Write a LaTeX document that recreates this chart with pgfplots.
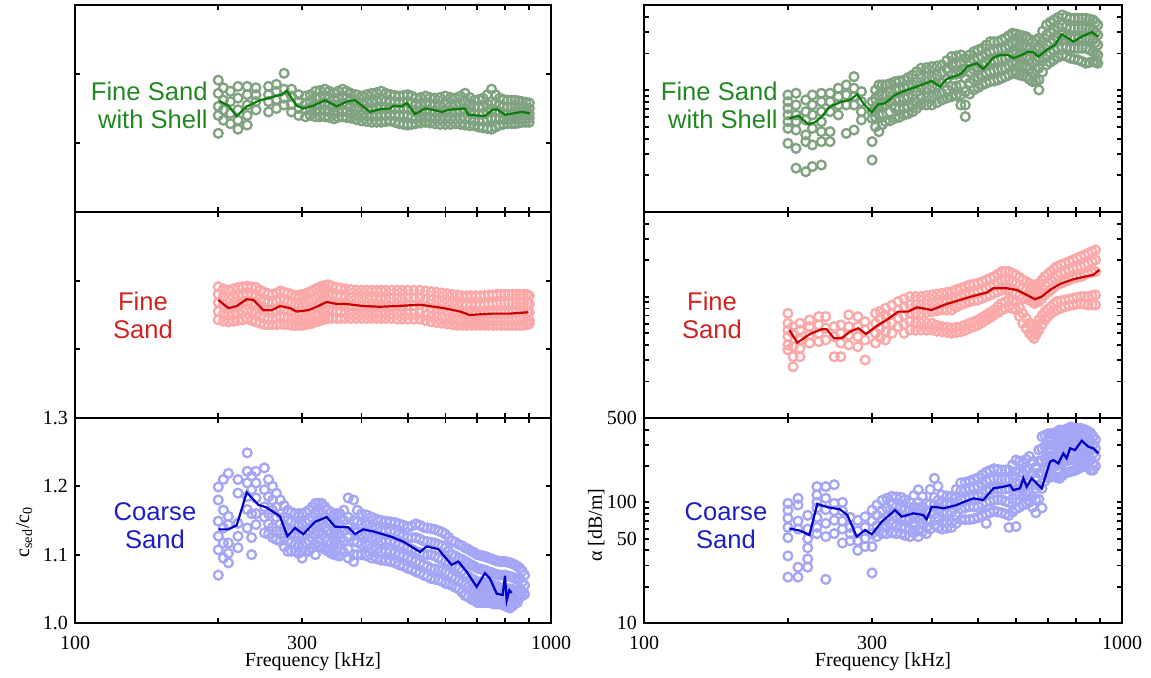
\documentclass[border=0pt]{standalone}
\usepackage{fontspec}
\setmainfont{Liberation Serif}
\newfontfamily\sansf{Liberation Sans}
\usepackage{pgfplots}
\usepackage{pgfplotstable}
\pgfplotsset{compat=1.18}

\definecolor{gLine}{RGB}{10,125,10}
\definecolor{gScat}{RGB}{128,162,128}
\definecolor{gText}{RGB}{35,135,35}
\definecolor{rLine}{RGB}{205,0,0}
\definecolor{rScat}{RGB}{250,168,168}
\definecolor{rText}{RGB}{210,35,35}
\definecolor{bLine}{RGB}{0,0,200}
\definecolor{bScat}{RGB}{165,165,245}
\definecolor{bText}{RGB}{30,30,195}

% ---------------- Fine Sand with Shell, sound speed ratio ----------------
\pgfplotstableread{
x a b c d e g h
200 1.191 1.172 1.153 1.140 1.114 nan nan
205 1.180 1.162 1.148 1.133 nan nan nan
212 1.175 1.160 1.143 1.128 nan nan nan
220 1.182 1.165 1.148 1.133 1.120 nan nan
230 1.182 1.170 1.155 1.140 1.126 nan nan
240 1.180 1.170 1.160 1.148 nan nan nan
255 1.182 1.170 1.160 1.145 nan nan nan
265 1.185 1.175 1.163 1.150 nan nan nan
275 1.201 1.178 1.165 1.155 nan nan nan
285 1.178 1.168 1.156 1.145 nan nan nan
295 1.170 1.160 1.150 1.140 nan nan nan
305 1.168 1.158 1.148 1.138 nan nan nan
320 1.175 1.165 1.155 1.145 1.138 nan nan
335 1.178 1.168 1.158 1.148 1.138 nan nan
350 1.172 1.162 1.152 1.142 1.135 nan nan
365 1.178 1.168 1.158 1.148 1.138 nan nan
380 1.172 1.162 1.152 1.142 1.136 nan nan
400 1.168 1.158 1.148 1.140 1.132 nan nan
420 1.172 1.160 1.150 1.140 1.130 nan nan
440 1.175 1.162 1.152 1.140 1.130 nan nan
460 1.170 1.160 1.150 1.140 1.132 nan nan
480 1.168 1.158 1.150 1.140 1.128 nan nan
500 1.170 1.160 1.150 1.140 1.126 nan nan
520 1.165 1.155 1.145 1.135 1.128 nan nan
545 1.168 1.158 1.148 1.138 1.130 nan nan
570 1.165 1.155 1.145 1.135 1.128 nan nan
600 1.168 1.156 1.146 1.136 1.127 nan nan
630 1.165 1.155 1.145 1.135 1.128 nan nan
660 1.172 1.160 1.148 1.136 1.126 nan nan
690 1.162 1.152 1.142 1.132 1.125 nan nan
720 1.165 1.152 1.142 1.132 1.122 nan nan
750 1.178 1.160 1.148 1.136 1.120 nan nan
780 1.165 1.155 1.145 1.135 1.126 nan nan
810 1.162 1.152 1.142 1.134 1.128 nan nan
840 1.162 1.152 1.143 1.135 1.128 nan nan
870 1.160 1.152 1.143 1.135 1.130 nan nan
900 1.158 1.150 1.143 1.136 1.130 nan nan
}\FSSc
\pgfplotstableread{
x a b c d e
312 1.170 1.160 1.150 1.140 nan
327 1.176 1.166 1.156 1.146 1.138
342 1.175 1.165 1.155 1.145 1.137
357 1.175 1.165 1.155 1.145 1.137
372 1.175 1.165 1.155 1.145 1.137
390 1.170 1.160 1.150 1.141 1.134
410 1.170 1.159 1.149 1.140 1.131
430 1.173 1.161 1.151 1.140 1.130
450 1.172 1.161 1.151 1.140 1.131
470 1.169 1.159 1.150 1.140 1.130
490 1.169 1.159 1.150 1.140 1.127
510 1.168 1.158 1.148 1.138 1.127
532 1.166 1.156 1.146 1.136 1.129
557 1.166 1.156 1.146 1.136 1.129
585 1.166 1.155 1.145 1.135 1.127
615 1.166 1.155 1.145 1.135 1.127
645 1.168 1.157 1.146 1.135 1.127
675 1.166 1.156 1.145 1.134 1.125
705 1.163 1.152 1.142 1.132 1.123
735 1.170 1.156 1.145 1.134 1.121
765 1.170 1.158 1.146 1.135 1.123
795 1.163 1.153 1.143 1.134 1.127
825 1.162 1.152 1.142 1.134 1.128
855 1.161 1.152 1.143 1.135 1.129
885 1.159 1.151 1.143 1.135 1.130
}\FSScB
\pgfplotstableread{
x y
201 1.161
210 1.154
218.6 1.139
229.5 1.153
244.7 1.162
261 1.167
271.8 1.170
278.5 1.176
292 1.154
301.8 1.150
316.7 1.154
335.2 1.162
354.7 1.153
372.4 1.160
387.5 1.162
416.6 1.145
437.1 1.149
458.9 1.150
466.3 1.154
485.6 1.153
497.5 1.158
518 1.142
543.7 1.150
566 1.148
589.3 1.145
608.6 1.148
628.5 1.149
659.7 1.150
670.4 1.141
726.6 1.139
753 1.148
768.9 1.149
800.5 1.141
833.3 1.143
867.8 1.145
903.4 1.143
}\FSScL

% ---------------- Fine Sand, sound speed ratio ----------------
\pgfplotstableread{
x a b c d e
200 1.191 1.180 1.168 1.155 1.143
210 1.186 1.175 1.162 1.150 1.140
220 1.190 1.178 1.165 1.152 1.142
230 1.192 1.180 1.170 1.158 1.145
240 1.190 1.178 1.165 1.152 1.140
250 1.183 1.170 1.158 1.145 1.136
260 1.180 1.168 1.155 1.143 1.136
270 1.185 1.172 1.160 1.148 1.137
280 1.182 1.170 1.157 1.145 1.136
290 1.178 1.166 1.155 1.143 1.135
300 1.180 1.167 1.155 1.143 1.135
310 1.183 1.170 1.157 1.145 1.137
320 1.188 1.175 1.162 1.150 1.140
330 1.192 1.180 1.168 1.155 1.143
340 1.194 1.180 1.168 1.156 1.145
355 1.190 1.178 1.166 1.155 1.145
370 1.188 1.176 1.165 1.153 1.145
390 1.186 1.175 1.163 1.152 1.145
410 1.186 1.175 1.163 1.152 1.145
430 1.186 1.174 1.162 1.152 1.145
450 1.186 1.174 1.162 1.152 1.145
475 1.186 1.174 1.163 1.152 1.144
500 1.186 1.175 1.164 1.152 1.144
530 1.186 1.175 1.165 1.153 1.144
560 1.184 1.172 1.160 1.148 1.140
590 1.182 1.170 1.158 1.146 1.138
620 1.180 1.168 1.155 1.143 1.136
650 1.178 1.165 1.153 1.141 1.135
680 1.178 1.165 1.152 1.140 1.135
710 1.178 1.165 1.152 1.140 1.135
740 1.179 1.166 1.153 1.141 1.135
770 1.180 1.167 1.153 1.141 1.135
800 1.180 1.167 1.153 1.141 1.135
830 1.180 1.167 1.154 1.142 1.135
860 1.180 1.167 1.154 1.142 1.135
890 1.180 1.167 1.154 1.142 1.136
}\FSc
\pgfplotstableread{
x a b c d e
205 1.188 1.177 1.165 1.152 1.141
215 1.188 1.176 1.163 1.151 1.141
225 1.191 1.179 1.167 1.155 1.143
235 1.191 1.179 1.167 1.155 1.142
245 1.186 1.174 1.161 1.148 1.138
255 1.181 1.169 1.156 1.144 1.136
265 1.182 1.170 1.157 1.145 1.136
275 1.183 1.171 1.158 1.146 1.136
285 1.180 1.168 1.156 1.144 1.135
295 1.179 1.166 1.155 1.143 1.135
305 1.181 1.168 1.156 1.144 1.136
315 1.185 1.172 1.160 1.147 1.138
325 1.190 1.178 1.165 1.152 1.141
335 1.193 1.180 1.168 1.155 1.144
347 1.192 1.179 1.167 1.155 1.145
362 1.189 1.177 1.165 1.154 1.145
380 1.187 1.175 1.164 1.152 1.145
400 1.186 1.175 1.163 1.152 1.145
420 1.186 1.175 1.163 1.152 1.145
440 1.186 1.174 1.162 1.152 1.145
462 1.186 1.174 1.162 1.152 1.145
487 1.186 1.174 1.163 1.152 1.144
515 1.186 1.175 1.164 1.152 1.144
545 1.185 1.173 1.162 1.150 1.142
575 1.183 1.171 1.159 1.147 1.139
605 1.181 1.169 1.156 1.144 1.137
635 1.179 1.166 1.154 1.142 1.135
665 1.178 1.165 1.152 1.140 1.135
695 1.178 1.165 1.152 1.140 1.135
725 1.178 1.165 1.152 1.140 1.135
755 1.179 1.166 1.153 1.141 1.135
785 1.180 1.167 1.153 1.141 1.135
815 1.180 1.167 1.153 1.141 1.135
845 1.180 1.167 1.154 1.142 1.135
875 1.180 1.167 1.154 1.142 1.135
900 1.178 1.166 1.154 1.142 1.137
}\FScB
\pgfplotstableread{
x y
200 1.172
210 1.160
218.6 1.163
229.5 1.173
237 1.172
248.8 1.157
258.9 1.157
269.6 1.163
283 1.160
292 1.155
309.2 1.157
321.9 1.162
337.9 1.169
354.7 1.166
372.4 1.166
403.4 1.163
437.1 1.162
473.6 1.163
530.7 1.165
594.7 1.160
644.3 1.155
675 1.150
709.4 1.151
753 1.152
820.2 1.152
896 1.154
}\FScL

% ---------------- Coarse Sand, sound speed ratio ----------------
\pgfplotstableread{
x a b c d e g
200 1.199 1.180 1.149 1.127 1.107 1.070
205 1.210 1.165 1.139 1.117 1.095 nan
210 1.219 1.156 1.144 1.117 1.102 1.088
220 1.210 1.190 1.146 1.127 1.110 nan
230 1.249 1.222 1.205 1.185 1.166 1.139
235 1.215 1.195 1.160 1.125 1.100 nan
240 1.222 1.205 1.183 1.160 1.144 nan
250 1.227 1.195 1.170 1.155 1.132 nan
255 1.210 1.185 1.160 1.145 1.130 nan
260 1.200 1.180 1.165 1.140 1.125 nan
270 1.180 1.160 1.145 1.130 1.120 nan
280 1.165 1.150 1.135 1.120 1.105 nan
290 1.160 1.145 1.130 1.115 1.105 nan
300 1.160 1.145 1.130 1.115 1.105 1.095
310 1.165 1.150 1.135 1.120 1.105 nan
320 1.175 1.160 1.145 1.130 1.115 1.100
330 1.175 1.160 1.145 1.130 1.110 nan
340 1.165 1.150 1.135 1.120 1.105 nan
350 1.160 1.145 1.130 1.115 1.100 nan
360 1.160 1.145 1.130 1.115 1.098 nan
375 1.183 1.155 1.140 1.125 1.108 1.095
385 1.180 1.150 1.135 1.120 1.100 1.090
400 1.160 1.145 1.130 1.115 1.100 nan
420 1.155 1.140 1.125 1.110 1.095 nan
440 1.150 1.135 1.120 1.105 1.092 nan
460 1.148 1.135 1.120 1.105 1.090 nan
480 1.145 1.130 1.115 1.100 1.085 nan
500 1.140 1.125 1.110 1.095 1.080 nan
520 1.145 1.125 1.105 1.090 1.075 nan
540 1.140 1.120 1.100 1.085 1.070 nan
560 1.138 1.118 1.100 1.080 1.065 nan
580 1.135 1.115 1.095 1.078 1.063 nan
600 1.130 1.110 1.090 1.075 1.058 nan
620 1.120 1.100 1.085 1.068 1.055 nan
640 1.115 1.095 1.080 1.062 1.050 nan
660 1.110 1.090 1.072 1.056 1.040 nan
680 1.105 1.085 1.065 1.050 1.035 nan
700 1.100 1.080 1.060 1.045 1.030 nan
720 1.098 1.078 1.060 1.045 1.030 nan
740 1.095 1.075 1.058 1.042 1.030 nan
760 1.092 1.072 1.055 1.040 1.028 nan
780 1.090 1.070 1.052 1.038 1.028 nan
800 1.090 1.070 1.050 1.035 1.025 nan
820 1.088 1.068 1.050 1.035 1.022 nan
840 1.085 1.065 1.048 1.035 1.028 nan
860 1.080 1.065 1.050 1.038 nan nan
880 1.070 1.055 1.042 nan nan nan
}\CSc
\pgfplotstableread{
x a b c d e
265 1.190 1.170 1.155 1.135 1.122
275 1.172 1.155 1.140 1.125 1.112
285 1.162 1.148 1.132 1.118 1.105
295 1.160 1.145 1.130 1.115 1.102
305 1.162 1.147 1.132 1.117 1.105
315 1.170 1.155 1.140 1.125 1.110
325 1.175 1.160 1.145 1.130 1.112
335 1.170 1.155 1.140 1.125 1.108
345 1.162 1.147 1.132 1.117 1.102
355 1.160 1.145 1.130 1.115 1.099
367 1.165 1.150 1.135 1.120 1.103
392 1.165 1.148 1.133 1.118 1.100
410 1.158 1.143 1.128 1.113 1.098
430 1.152 1.138 1.123 1.108 1.094
450 1.149 1.135 1.120 1.105 1.091
470 1.147 1.133 1.118 1.103 1.088
490 1.143 1.128 1.113 1.098 1.083
510 1.142 1.125 1.108 1.093 1.078
530 1.143 1.123 1.103 1.088 1.073
550 1.139 1.119 1.100 1.083 1.068
570 1.137 1.117 1.098 1.079 1.064
590 1.133 1.113 1.093 1.077 1.061
610 1.125 1.105 1.088 1.072 1.057
630 1.118 1.098 1.083 1.065 1.052
650 1.113 1.093 1.076 1.059 1.045
670 1.108 1.088 1.069 1.053 1.038
690 1.103 1.083 1.063 1.048 1.033
710 1.099 1.079 1.060 1.045 1.030
730 1.097 1.077 1.059 1.044 1.030
750 1.094 1.074 1.057 1.041 1.029
770 1.091 1.071 1.054 1.039 1.028
790 1.090 1.070 1.051 1.037 1.027
810 1.089 1.069 1.050 1.035 1.024
830 1.087 1.067 1.049 1.035 1.025
850 1.083 1.065 1.049 1.036 1.030
870 1.076 1.060 1.046 1.040 nan
}\CScB
\pgfplotstableread{
x y
200 1.137
210 1.137
218.6 1.143
229.5 1.191
242.7 1.173
252.7 1.169
269.6 1.156
279.3 1.127
289.9 1.139
301.8 1.130
319.3 1.148
337.9 1.155
351.8 1.141
375.2 1.140
387.5 1.130
403.4 1.137
423.4 1.134
462.7 1.126
489.4 1.119
530.7 1.104
548.1 1.112
579.9 1.108
618.4 1.085
638.7 1.090
665 1.075
698 1.053
726.6 1.073
744.4 1.065
768.9 1.043
791.5 1.041
800.5 1.069
807 1.033
817.4 1.048
826.8 1.044
}\CScL

% ---------------- Fine Sand with Shell, attenuation ----------------
\pgfplotstableread{
x a b c d e g h
200 91.3 80.4 71 62.6 55.1 48.6 36.6
208 94.3 75.6 62.6 55.1 47.1 33.3 22.9
218 83.1 66.6 56.9 42.9 37.8 21.4 nan
225 91.3 75.6 62.6 48.6 35.5 23.6 nan
235 94.3 80.4 66.6 55.1 45.6 37.8 24.3
245 94.3 80.4 66.6 45.6 37.8 nan nan
255 103.7 88.4 75.6 62.6 nan nan nan
265 110.4 91.3 75.6 44.2 nan nan nan
275 129.1 103.7 88.4 75.6 47.1 nan nan
285 97.3 80.4 66.6 56.9 nan nan nan
300 80.4 66.6 58.7 37.8 26.7 nan nan
310 110.4 91.3 75.6 62.6 45.6 nan nan
320 110.4 91.3 75.6 55.1 nan nan nan
335 117.5 100.4 83.1 71 58.7 nan nan
350 121.3 103.7 85.8 71 62.6 nan nan
365 133.3 110.4 91.3 75.6 66.6 nan nan
380 151.4 125.2 103.7 85.8 75.6 nan nan
400 156 129.1 106.9 88.4 75.6 nan nan
420 161 137.6 113.9 94.3 83.1 nan nan
440 188.4 161 133.3 106.9 88.4 nan nan
460 194.5 166.2 137.6 110.4 91.3 75.6 nan
470 182.7 151.4 125.2 97.3 75.6 60.6 nan
490 207 177 146.6 121.3 100.4 nan nan
510 220.6 188.4 161 133.3 110.4 nan nan
530 250.1 207 171.4 141.9 117.5 nan nan
550 250.1 213.8 177 146.6 121.3 nan nan
570 266.7 220.6 182.7 151.4 129.1 nan nan
590 293 242.7 200.8 166.2 137.6 nan nan
610 283.9 235 194.5 161 133.3 nan nan
630 274.8 227.6 188.4 156 129.1 nan nan
650 250.1 207 171.4 141.9 117.5 nan nan
670 266.7 220.6 182.7 151.4 121.3 100.4 nan
695 343 283.9 235 194.5 161 nan nan
720 377 312 258 213.8 177 nan nan
750 414 343 283.9 227.6 194.5 nan nan
780 389 322 266.7 220.6 182.7 nan nan
810 389 322 266.7 220.6 177 nan nan
840 389 322 266.7 220.6 166.2 nan nan
870 377 312 258 207 171.4 nan nan
890 343 283.9 235 194.5 166.2 nan nan
}\FSSa
\pgfplotstableread{
x a b c d e
305 100 85 72 60 50
315 110.4 91.3 75.6 62.6 52
327 113 96 80 66 56
342 119 102 84 71 60
357 127 107 88 73 64
372 142 118 97 80 71
390 153 127 105 87 75.6
410 158 133 110 91 79
430 175 149 124 101 86
450 191 163 135 108 90
480 195 170 140 115 93
500 214 183 154 127 105
520 235 198 166 138 114
540 250 210 174 144 119
560 258 217 180 149 125
580 280 232 192 159 133
600 289 239 198 164 136
620 279 231 191 158 131
640 262 217 180 149 123
660 258 214 177 147 119
682 305 252 209 173 141
707 360 298 246 204 169
735 395 328 271 221 186
765 401 332 275 224 189
795 389 322 266.7 220.6 180
825 389 322 266.7 220.6 172
855 383 317 262 214 169
880 360 298 246 201 169
}\FSSaB
\pgfplotstableread{
x y
201.4 58.7
210.3 61.8
220.7 52.5
228 54.5
235.3 60.6
244.9 73.2
259.1 80.4
269.8 83.1
279.4 92.5
288.6 76.6
299.5 65.8
309.2 76.6
319.3 78
335.1 91.3
354.5 100.4
371.9 106.9
384 111.7
399.8 119
416.2 106.9
429.8 123.6
451.1 131.6
462.1 137.6
473.4 156
496.6 166.2
512.8 149.3
538.1 184.9
555.6 194.5
578.4 194.5
592.5 182.7
621.8 197
636.8 207
652.4 204.7
668.3 188.4
695.8 213.8
724.2 235
747.9 287.5
772.3 266.7
790.9 250.1
823.6 274.8
864.3 298.8
892.3 274.8
}\FSSaL

% ---------------- Fine Sand, attenuation ----------------
\pgfplotstableread{
x a b c d e g
200 73 60.4 53.2 46.9 40 36.4
205 56.7 50 38.7 32 26.5 nan
212 60.4 53.2 44 37.6 32 nan
222 64.4 56.7 48.3 41.5 nan nan
232 68.5 58.5 50 42.6 nan nan
240 68.5 55 44 nan nan nan
250 56.7 46.9 32 nan nan nan
258 58.5 50 41.5 32 nan nan
268 70.8 56.7 48.3 40 nan nan
280 68.5 56.7 46.9 38.7 nan nan
290 62.3 53.2 44 30.1 nan nan
305 73 60.4 50 41.5 nan nan
320 80.3 70.8 60.4 51.5 44 nan
340 91.2 77.8 66.4 56.7 nan nan
360 100.3 85.6 73 62.3 53.2 nan
380 100.3 85.6 73 60.4 53.2 nan
400 103.5 88.3 75.4 60.4 53.2 nan
420 106.9 91.2 77.8 56.7 51.5 nan
440 110.2 94.1 77.8 55 50 nan
460 117.5 100.3 85.6 56.7 51.5 nan
480 125.2 106.9 91.2 60.4 55 nan
500 129.1 110.2 94.1 64.4 58.5 nan
520 137.6 117.5 100.3 70.8 64.4 nan
540 146.6 125.2 106.9 77.8 70.8 nan
560 161.2 137.6 113.8 88.3 77.8 nan
580 161.2 137.6 113.8 94.1 82.5 nan
600 151.4 129.1 106.9 91.2 77.8 nan
620 137.6 117.5 97 73 60.4 nan
640 129.1 110.2 94.1 60.4 50 nan
655 121.2 103.5 88.3 53.2 45.4 nan
670 129.1 106.9 91.2 64.4 53.2 nan
690 146.6 125.2 103.5 75.4 64.4 nan
710 161.2 137.6 113.8 82.8 73 nan
730 177 151.4 125.2 91.2 77.8 nan
760 188.8 161.2 133.2 94.1 82.8 nan
790 201.2 171.8 142.1 97.2 85.6 nan
820 214.3 177 146.6 100.3 88.3 nan
850 228.5 188.8 156.3 100.3 85.6 nan
880 243.2 201.2 161.2 103.5 85.6 nan
}\FSa
\pgfplotstableread{
x a b c d e
312 76 66 55 46 nan
330 85 72 61 50 nan
350 96 82 70 59 50
370 100.3 85.6 73 61 53
390 102 87 74 60.4 53
410 105 90 76.6 58 52
430 108.5 92.6 77.8 56 50.7
450 114 97 82 56 50.7
470 121 103.5 88.3 58.5 53
490 127 108.5 92.6 62.3 56.7
510 133 113.8 97.2 67.5 61.3
530 142 121 103.5 74.2 67.5
550 153.8 131 110 83 74
570 161.2 137.6 113.8 91 80
590 156 133 110 92.6 80
610 144 123 102 82 69
630 133 113.8 95.6 66.5 55
648 125 106.9 91.2 56.7 47.7
662 125 105 89.7 58.7 49.3
680 137.6 116 97 70 58.7
700 153.8 131 108.5 79 68.5
720 169 144 119 87 75.4
745 183 156 129 92.6 80.3
775 195 166.4 137.6 95.6 84.2
805 207.6 174.4 144.3 98.7 86.9
835 221 183 151.4 100.3 86.9
865 235.7 195 158.7 102 85.6
}\FSaB
\pgfplotstableread{
x y
201.4 53.2
209.3 41.8
222.5 49.3
235.3 53.9
241.1 53.9
249.7 45.4
259.1 45.4
269.8 51.5
280.8 55
291.4 49.3
306.8 57.4
322 64.4
340.4 75.4
357.2 75.4
371.9 81.8
399.8 77.8
429.8 87.2
458.4 94.1
488.7 101.5
521.2 108.2
538.1 117.5
573.8 117.5
602.2 113.8
631.9 103.5
657.7 95.3
679.3 100.3
707.1 113.8
741.9 127.5
790.9 139.3
836.7 146.6
871 151.4
896.6 166.4
}\FSaL

% ---------------- Coarse Sand, attenuation ----------------
\pgfplotstableread{
x a b c d e g h
200 98 86 74 62 51 36 24
210 108 95 70 60 29 24 nan
220 78 60 50 42 34 29 nan
230 135 115 100 90 75 62 55
240 135 108 87 67 52 23 nan
250 140 98 85 71 55 nan nan
260 100 85 70 60 46 nan nan
270 75 62 55 48 nan nan nan
280 71 58 48 40 nan nan nan
290 76 62 50 43 nan nan nan
300 86 70 55 43 26 nan nan
315 104 86 72 62 55 nan nan
330 112 95 80 66 56 nan nan
345 110 90 75 62 55 nan nan
360 100 85 72 60 52 nan nan
375 127 100 85 72 60 52 nan
390 98 85 72 62 55 nan nan
405 158 110 95 80 65 nan nan
420 115 98 82 68 60 nan nan
440 112 97 82 68 62 nan nan
460 145 125 105 88 72 nan nan
480 150 130 110 92 72 nan nan
500 160 135 112 92 75 nan nan
520 178 150 125 100 80 67 nan
540 190 158 130 105 85 nan nan
560 185 155 128 105 82 nan nan
580 185 155 130 100 78 62 nan
600 224 180 145 115 88 63 nan
620 215 175 140 115 95 nan nan
640 240 190 150 120 100 nan nan
660 195 160 130 105 82 nan nan
680 350 280 220 170 130 90 nan
700 370 300 240 195 160 nan nan
720 370 300 245 200 165 nan nan
740 397 320 255 205 158 nan nan
760 397 330 270 220 175 nan nan
780 420 340 280 225 180 nan nan
800 410 340 275 225 185 nan nan
820 410 345 285 235 195 nan nan
840 397 340 285 240 205 nan nan
860 375 320 270 225 185 nan nan
880 330 280 240 200 nan nan nan
}\CSa
\pgfplotstableread{
x a b c d e
307 95 78 64 52 nan
322 108 90 76 64 55
337 111 92 77 64 55
352 105 87 73 61 53
367 114 92 78 66 56
382 112 92 78 67 57
397 128 97 83 71 60
412 136 104 88 74 62
430 113 97 82 68 61
450 128 111 93 78 67
470 147 127 107 90 72
490 155 132 111 92 73
510 169 142 118 96 77
530 184 154 127 102 82
550 187 156 129 105 83
570 185 155 129 102 80
590 204 167 137 107 83
610 219 177 142 115 91
630 227 182 145 117 97
650 217 175 140 112 91
670 272 220 175 137 106
690 360 290 230 185 150
710 370 300 242 197 162
730 383 310 250 202 161
750 397 325 262 212 166
770 408 335 275 222 177
790 415 340 277 225 182
810 410 342 280 230 190
830 403 342 285 237 200
850 386 330 277 232 195
870 352 300 255 212 185
}\CSaB
\pgfplotstableread{
x y
201.4 60.8
212.1 58.2
221.8 53.6
230.4 96.8
243 90.8
257 87.5
266.3 78.5
278.6 51.9
290 59
299.5 54.3
314.3 69.1
335.1 86.3
346.1 76
365.9 81.1
384 78.5
390.3 72.3
399.8 91.9
412.8 90.8
422.9 89.1
451.1 95
462.1 99.2
488.7 107.9
512.8 104.5
538.1 130.6
564.6 134.7
583.1 139
592.5 126.4
611.9 130.6
621.8 158
631.9 134.7
647.4 158
679.3 130.6
707.1 217
718.4 224
735.9 210
753.8 254.5
766.2 231.5
778.6 280.2
797.6 271.3
823.6 323.9
850.3 289
871 280
892.3 254.5
}\CSaL

\pgfplotsset{
  every axis/.append style={
    axis line style={line width=1.1pt},
    tick style={black, line width=0.9pt},
    major tick length=2.6pt, minor tick length=2.6pt,
    tick label style={font=\fontsize{10}{12}\selectfont},
    label style={font=\fontsize{10}{12}\selectfont},
  },
}
\newcommand\scp[3]{\addplot[only marks, mark=o, mark size=2.2pt, line width=1.15pt, color=#3] table[x=x,y=#2]{#1};}
\newcommand\mln[2]{\addplot[no marks, line width=1.1pt, color=#2] table[x=x,y=y]{#1};}

\begin{document}
\begin{tikzpicture}
\useasboundingbox (0,0) rectangle (575.5pt,339pt);

% ---------- left column ----------
\begin{axis}[scale only axis, clip marker paths=true, anchor=south west, at={(37.5pt,233pt)}, width=238pt, height=103.5pt,
  xmode=log, xmin=100, xmax=1000, xtick={100,300,1000}, minor xtick={200,400,500,600,700,800,900},
  ymin=1, ymax=1.3, ytick={1,1.1,1.2,1.3}, xticklabels={}, yticklabels={}]
  \scp\FSSc a{gScat} \scp\FSSc b{gScat} \scp\FSSc c{gScat} \scp\FSSc d{gScat} \scp\FSSc e{gScat}
  \scp\FSScB a{gScat} \scp\FSScB b{gScat} \scp\FSScB c{gScat} \scp\FSScB d{gScat} \scp\FSScB e{gScat}
  \mln\FSScL{gLine}
\end{axis}
\begin{axis}[scale only axis, clip marker paths=true, anchor=south west, at={(37.5pt,130pt)}, width=238pt, height=103pt,
  xmode=log, xmin=100, xmax=1000, xtick={100,300,1000}, minor xtick={200,400,500,600,700,800,900},
  ymin=1, ymax=1.3, ytick={1,1.1,1.2,1.3}, xticklabels={}, yticklabels={}]
  \scp\FSc a{rScat} \scp\FSc b{rScat} \scp\FSc c{rScat} \scp\FSc d{rScat} \scp\FSc e{rScat}
  \scp\FScB a{rScat} \scp\FScB b{rScat} \scp\FScB c{rScat} \scp\FScB d{rScat} \scp\FScB e{rScat}
  \mln\FScL{rLine}
\end{axis}
\begin{axis}[scale only axis, clip marker paths=true, anchor=south west, at={(37.5pt,27.5pt)}, width=238pt, height=102.5pt,
  xmode=log, xmin=100, xmax=1000, xtick={100,300,1000}, minor xtick={200,400,500,600,700,800,900},
  ymin=1, ymax=1.3, ytick={1,1.1,1.2,1.3},
  xticklabels={100,300,1000}, yticklabels={1.0,1.1,1.2,1.3},
  xticklabel style={yshift=-3pt},
  xlabel={Frequency [kHz]},
  xlabel style={at={(axis description cs:0.5,-0.19)}, anchor=center},
  ylabel={c\textsubscript{sed}/c\textsubscript{0}},
  ylabel style={at={(axis description cs:-0.107,0.444)}, anchor=center}]
  \scp\CSc a{bScat} \scp\CSc b{bScat} \scp\CSc c{bScat} \scp\CSc d{bScat} \scp\CSc e{bScat} \scp\CSc g{bScat}
  \scp\CScB a{bScat} \scp\CScB b{bScat} \scp\CScB c{bScat} \scp\CScB d{bScat} \scp\CScB e{bScat}
  \mln\CScL{bLine}
\end{axis}

% ---------- right column ----------
\begin{axis}[scale only axis, clip marker paths=true, anchor=south west, at={(322pt,233pt)}, width=239pt, height=103.5pt,
  xmode=log, ymode=log, xmin=100, xmax=1000, xtick={100,300,1000}, minor xtick={200,400,500,600,700,800,900},
  ymin=10, ymax=500, ytick={10,50,100,500}, minor ytick={20,30,40,60,70,80,90,200,300,400},
  xticklabels={}, yticklabels={}]
  \scp\FSSa a{gScat} \scp\FSSa b{gScat} \scp\FSSa c{gScat} \scp\FSSa d{gScat} \scp\FSSa e{gScat} \scp\FSSa g{gScat} \scp\FSSa h{gScat}
  \scp\FSSaB a{gScat} \scp\FSSaB b{gScat} \scp\FSSaB c{gScat} \scp\FSSaB d{gScat} \scp\FSSaB e{gScat}
  \mln\FSSaL{gLine}
\end{axis}
\begin{axis}[scale only axis, clip marker paths=true, anchor=south west, at={(322pt,130pt)}, width=239pt, height=103pt,
  xmode=log, ymode=log, xmin=100, xmax=1000, xtick={100,300,1000}, minor xtick={200,400,500,600,700,800,900},
  ymin=10, ymax=500, ytick={10,50,100,500}, minor ytick={20,30,40,60,70,80,90,200,300,400},
  xticklabels={}, yticklabels={}]
  \scp\FSa a{rScat} \scp\FSa b{rScat} \scp\FSa c{rScat} \scp\FSa d{rScat} \scp\FSa e{rScat} \scp\FSa g{rScat}
  \scp\FSaB a{rScat} \scp\FSaB b{rScat} \scp\FSaB c{rScat} \scp\FSaB d{rScat} \scp\FSaB e{rScat}
  \mln\FSaL{rLine}
\end{axis}
\begin{axis}[scale only axis, clip marker paths=true, anchor=south west, at={(322pt,27.5pt)}, width=239pt, height=102.5pt,
  xmode=log, ymode=log, xmin=100, xmax=1000, xtick={100,300,1000}, minor xtick={200,400,500,600,700,800,900},
  ymin=10, ymax=500, ytick={10,50,100,500}, minor ytick={20,30,40,60,70,80,90,200,300,400},
  xticklabels={100,300,1000}, yticklabels={10,50,100,500},
  xticklabel style={yshift=-3pt},
  xlabel={Frequency [kHz]},
  xlabel style={at={(axis description cs:0.5,-0.19)}, anchor=center},
  ylabel={α [dB/m]},
  ylabel style={at={(axis description cs:-0.1,0.478)}, anchor=center}]
  \scp\CSa a{bScat} \scp\CSa b{bScat} \scp\CSa c{bScat} \scp\CSa d{bScat} \scp\CSa e{bScat} \scp\CSa g{bScat} \scp\CSa h{bScat}
  \scp\CSaB a{bScat} \scp\CSaB b{bScat} \scp\CSaB c{bScat} \scp\CSaB d{bScat} \scp\CSaB e{bScat}
  \mln\CSaL{bLine}
\end{axis}

% ---------- panel labels ----------
\begin{scope}[every node/.style={font=\sansf\fontsize{12.8}{14}\selectfont, inner sep=0pt}]
\node[anchor=east, align=right, text=gText] at (104pt,286.5pt) {Fine Sand\\with Shell};
\node[anchor=east, align=right, text=gText] at (389pt,286.5pt) {Fine Sand\\with Shell};
\node[align=center, text=rText] at (71.5pt,181.5pt) {Fine\\Sand};
\node[align=center, text=rText] at (356pt,181.5pt) {Fine\\Sand};
\node[align=center, text=bText] at (77.5pt,76pt) {Coarse\\Sand};
\node[align=center, text=bText] at (363pt,76pt) {Coarse\\Sand};
\end{scope}
\end{tikzpicture}
\end{document}
